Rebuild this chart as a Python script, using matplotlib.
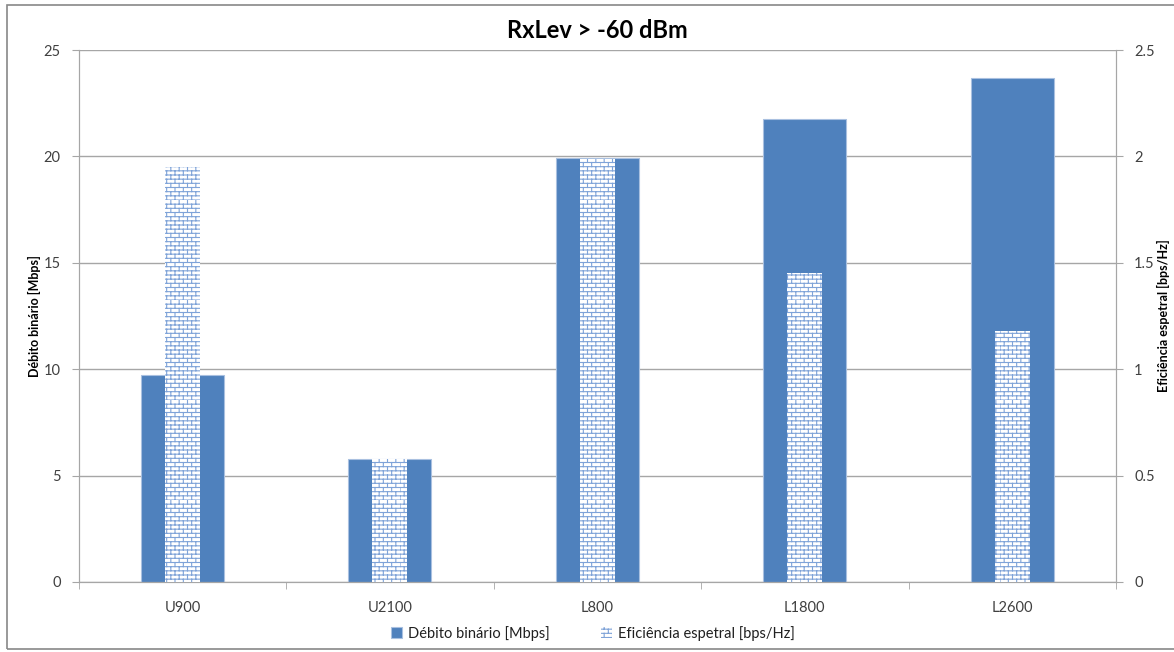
import warnings
import numpy as np
import matplotlib
matplotlib.use('Agg')
import matplotlib.pyplot as plt
from matplotlib import hatch as mhatch
from matplotlib.path import Path
from matplotlib.patches import Rectangle

warnings.filterwarnings('ignore')

# data
categories = ['U900', 'U2100', 'L800', 'L1800', 'L2600']
debito = [9.75, 5.8, 19.93, 21.75, 23.68]          # Mbps
eficiencia = [1.95, 0.58, 1.99, 1.45, 1.18]        # bps/Hz


# brick hatch pattern (Excel style), triggered by 'b' in the hatch string
class Bricks(mhatch.HatchPatternBase):
    def __init__(self, hatch, density):
        self.rows = 24 if 'b' in hatch else 0
        self.cols = 12
        self.num_vertices = 2 * (self.rows + self.rows * self.cols)

    def set_vertices_and_codes(self, vertices, codes):
        k = 0
        for i in range(self.rows):
            y0 = i / self.rows
            y1 = (i + 1) / self.rows
            vertices[k] = (0, y0)
            vertices[k + 1] = (1, y0)
            k += 2
            off = 0.5 * (i % 2)
            for j in range(self.cols):
                x = (j + off) / self.cols
                vertices[k] = (x, y0)
                vertices[k + 1] = (x, y1)
                k += 2
        codes[0::2] = Path.MOVETO
        codes[1::2] = Path.LINETO


mhatch._hatch_types.append(Bricks)

plt.rcParams['font.family'] = ['Lato', 'DejaVu Sans']
plt.rcParams['hatch.linewidth'] = 0.8

blue = '#4F81BD'
grid_c = '#A6A6A6'

fig = plt.figure(figsize=(11.74, 6.52), dpi=100)
ax = fig.add_axes([0.067, 0.1074, 0.8836, 0.8159])
ax2 = ax.twinx()

x = np.arange(len(categories))
ax.bar(x, debito, width=0.4, color=blue, edgecolor='#A9C0E0', linewidth=0.8,
       label='Débito binário [Mbps]', zorder=2)
ax2.bar(x, eficiencia, width=0.17, color='white', edgecolor='#7FA3D8',
        linewidth=0, hatch='b', label='Eficiência espetral [bps/Hz]', zorder=3)

ax.set_xlim(-0.5, len(categories) - 0.5)
ax.set_ylim(0, 25)
ax2.set_ylim(0, 2.5)
ax.set_yticks([0, 5, 10, 15, 20, 25])
ax2.set_yticks([0, 0.5, 1, 1.5, 2, 2.5])
ax2.set_yticklabels(['0', '0.5', '1', '1.5', '2', '2.5'])

ax.set_xticks(x)
ax.set_xticklabels(categories)
ax.set_xticks(np.arange(-0.5, len(categories)), minor=True)
ax.tick_params(axis='x', which='major', length=0, pad=14, labelsize=10.5, colors='#404040')
ax.tick_params(axis='x', which='minor', length=5, color=grid_c, direction='out')
ax.tick_params(axis='y', length=5, color=grid_c, labelsize=10.5, labelcolor='#404040', pad=8)
ax2.tick_params(axis='y', length=5, color=grid_c, labelsize=10.5, labelcolor='#404040', pad=8)

ax.yaxis.grid(True, color=grid_c, linewidth=1.0)
ax.set_axisbelow(True)

for a in (ax, ax2):
    a.spines['top'].set_visible(False)
    for s in ('left', 'right', 'bottom'):
        a.spines[s].set_color(grid_c)

ax.set_ylabel('Débito binário [Mbps]', fontsize=9, fontweight='bold', labelpad=2)
ax2.set_ylabel('Eficiência espetral [bps/Hz]', fontsize=9, fontweight='bold', labelpad=2)
ax.set_title('RxLev > -60 dBm', fontsize=17, fontweight='bold', pad=9)

h1, l1 = ax.get_legend_handles_labels()
h2, l2 = ax2.get_legend_handles_labels()
fig.legend(h1 + h2, l1 + l2, loc='center', bbox_to_anchor=(0.505, 0.029), ncol=2,
           frameon=False, fontsize=10.5, handlelength=0.8, handleheight=0.8,
           columnspacing=3.5, handletextpad=0.4, labelcolor='#202020')

# chart area border
fig.patches.append(Rectangle((0.006, 0.004), 1.2, 0.988, transform=fig.transFigure,
                             fill=False, edgecolor='#888888', linewidth=1.2))

fig.savefig('out.png', dpi=100)
